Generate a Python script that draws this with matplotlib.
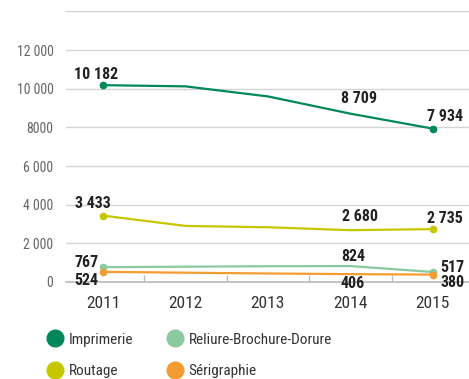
import matplotlib
matplotlib.use("Agg")
import matplotlib.pyplot as plt
from matplotlib.lines import Line2D

years = ["2011", "2012", "2013", "2014", "2015"]
imprimerie = [10182, 10120, 9600, 8709, 7934]
reliure = [767, 790, 815, 824, 517]
routage = [3433, 2900, 2830, 2680, 2735]
serigraphie = [524, 480, 440, 406, 380]

series_names = ["Imprimerie", "Reliure-Brochure-Dorure", "Routage", "Sérigraphie"]
colors = ["#00875a", "#8cc9a0", "#c5c800", "#f39c32"]
y_ticks = [0, 2000, 4000, 6000, 8000, 10000, 12000, 14000]
y_tick_labels = ["0", "2 000", "4 000", "6 000", "8000", "10 000", "12 000", ""]

# indices of labelled points and their offsets (points)
label_idx = [0, 3, 4]
offsets = {
    "Imprimerie": [(-5, 8), (6, 11), (9, 9)],
    "Reliure-Brochure-Dorure": [(-12, 3), (2, 7), (14, 3)],
    "Routage": [(-7, 9), (7, 10), (9, 8)],
    "Sérigraphie": [(-12, -6), (2, -7), (14, -5.5)],
}

plt.rcParams["font.family"] = ["Roboto Condensed", "DejaVu Sans"]
plt.rcParams["font.stretch"] = "condensed"

fig = plt.figure(figsize=(4.69, 3.79), dpi=100)
ax = fig.add_axes([0.1407, 0.256, 0.8593, 0.714])

x = list(range(len(years)))
data = [imprimerie, reliure, routage, serigraphie]
for name, vals, c in zip(series_names, data, colors):
    ax.plot(x, vals, color=c, lw=1.6, marker="o", ms=4.5, markevery=[0, 4],
            zorder=3, solid_capstyle="round")
    for i, off in zip(label_idx, offsets[name]):
        v = vals[i]
        ax.annotate(f"{v:,}".replace(",", " "), (i, v), xytext=off,
                    textcoords="offset points", ha="center", va="center",
                    fontsize=11.5, fontweight="bold", color="#222222", zorder=5)

ax.set_xlim(-0.45, 4.44)
ax.set_ylim(0, 14000)
ax.set_yticks(y_ticks)
ax.set_yticklabels(y_tick_labels)
ax.set_xticks(x)
ax.set_xticklabels(years)
ax.set_xticks([0.5, 1.5, 2.5, 3.5], minor=True)

ax.grid(axis="y", color="#d4d4d4", lw=1)
ax.set_axisbelow(True)
for s in ["top", "right", "left"]:
    ax.spines[s].set_visible(False)
ax.spines["bottom"].set_color("#bbbbbb")
ax.spines["bottom"].set_linewidth(1.2)

ax.tick_params(axis="y", length=0, pad=9, labelsize=10, labelcolor="#666666")
ax.tick_params(axis="x", which="major", length=0, pad=10, labelsize=12.5,
               labelcolor="#333333")
ax.tick_params(axis="x", which="minor", direction="in", length=5,
               color="#bbbbbb", width=1)

handles = [Line2D([], [], ls="none", marker="o", ms=12, color=c) for c in colors]
order = [0, 2, 1, 3]
fig.legend([handles[i] for i in order], [series_names[i] for i in order],
           ncol=2, loc="upper left", bbox_to_anchor=(0.085, 0.138),
           frameon=False, fontsize=11, labelcolor="#333333",
           handletextpad=0.3, columnspacing=2.1, labelspacing=1.15,
           borderaxespad=0, handlelength=1.2)

fig.savefig("out.png", dpi=100)
